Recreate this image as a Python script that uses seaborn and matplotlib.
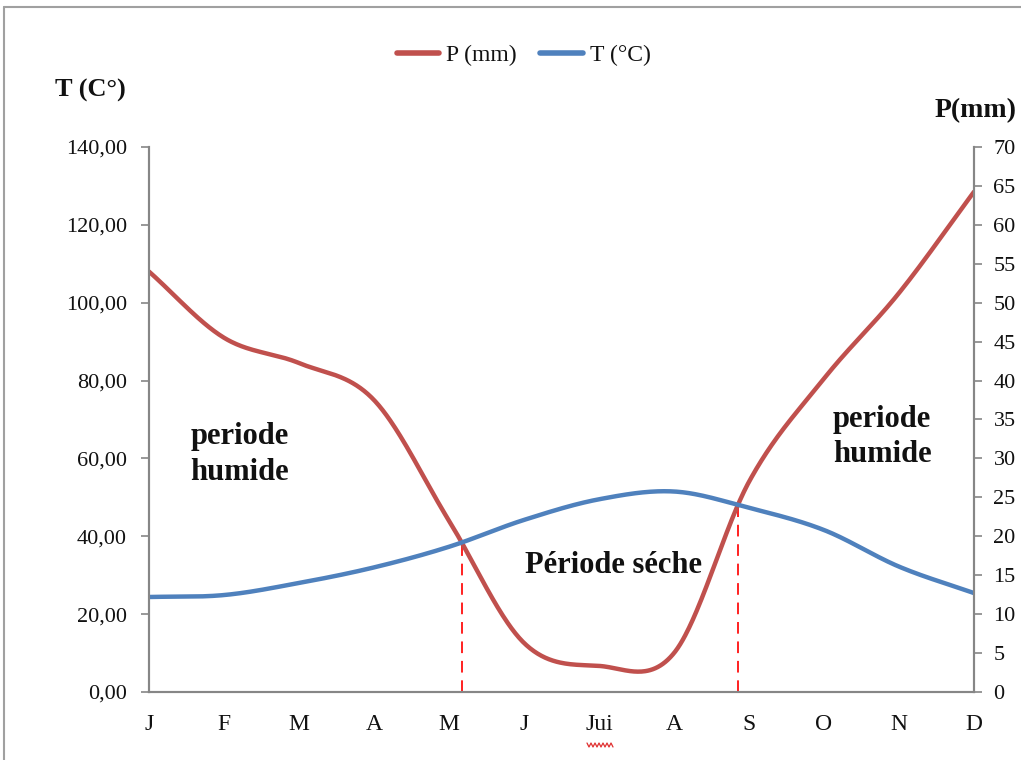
import numpy as np
import pandas as pd
import matplotlib
matplotlib.use("Agg")
import matplotlib.pyplot as plt
import seaborn as sns
from matplotlib.lines import Line2D

# ---------------- data ----------------
months = ["J", "F", "M", "A", "M", "J", "Jui", "A", "S", "O", "N", "D"]
precip_mm = [108.0, 91.0, 84.5, 75.0, 44.0, 12.6, 6.7, 10.0, 54.0, 80.5, 102.5, 128.5]
temp_c = [12.2, 12.45, 14.0, 16.0, 18.65, 22.1, 24.75, 25.75, 23.65, 20.8, 16.1, 12.7]
left_ticks = [0, 20, 40, 60, 80, 100, 120, 140]
left_labels = ["0,00", "20,00", "40,00", "60,00", "80,00", "100,00", "120,00", "140,00"]
right_ticks = list(range(0, 75, 5))

RED = "#C0504D"
BLUE = "#4F81BD"
GRAY = "#868686"
INK = "#111111"

sns.set_style("white")
plt.rcParams["font.family"] = ["Liberation Serif", "DejaVu Serif"]
plt.rcParams["text.color"] = INK
plt.rcParams["xtick.labelcolor"] = INK
plt.rcParams["ytick.labelcolor"] = INK


def smooth(vals, n=60):
    """Excel-like smoothed line (Catmull-Rom / cardinal spline) through the values."""
    v = np.asarray(vals, float)
    m = np.empty_like(v)
    m[1:-1] = (v[2:] - v[:-2]) / 2.0
    m[0] = (v[1] - v[0])
    m[-1] = (v[-1] - v[-2])
    xs, ys = [], []
    last = len(v) - 2
    for i in range(len(v) - 1):
        t = np.linspace(0, 1, n, endpoint=(i == last))
        h00 = 2 * t**3 - 3 * t**2 + 1
        h10 = t**3 - 2 * t**2 + t
        h01 = -2 * t**3 + 3 * t**2
        h11 = t**3 - t**2
        ys.append(h00 * v[i] + h10 * m[i] + h01 * v[i + 1] + h11 * m[i + 1])
        xs.append(i + t)
    return np.concatenate(xs), np.concatenate(ys)


xp, yp = smooth(precip_mm)
xt, yt = smooth(temp_c)
df = pd.DataFrame({"x": xp, "P": yp, "T": yt})

fig = plt.figure(figsize=(10.21, 7.60), dpi=100)
ax = fig.add_axes([0.1459, 0.0895, 0.954 - 0.1459, 0.8066 - 0.0895])
ax2 = ax.twinx()

sns.lineplot(data=df, x="x", y="P", ax=ax, color=RED, lw=3.2, estimator=None, sort=False)
sns.lineplot(data=df, x="x", y="T", ax=ax2, color=BLUE, lw=3.2, estimator=None, sort=False)

# crossings (P = 2T) -> dashed red verticals
diff = df["P"].values - 2 * df["T"].values
idx = np.where(np.sign(diff[:-1]) != np.sign(diff[1:]))[0]
for i in idx:
    f = diff[i] / (diff[i] - diff[i + 1])
    xc = df["x"].values[i] + f * (df["x"].values[i + 1] - df["x"].values[i])
    yc = df["P"].values[i] + f * (df["P"].values[i + 1] - df["P"].values[i])
    ax.plot([xc, xc], [0, yc], color="#FF2020", lw=1.4, ls=(0, (6, 4)), zorder=1)

ax.set_xlim(0, len(months) - 1)
ax.set_ylim(0, 140)
ax2.set_ylim(0, 70)
ax.set_xlabel("")
ax.set_ylabel("")
ax2.set_ylabel("")

ax.set_xticks(range(len(months)))
ax.set_xticklabels(months, fontsize=17)
ax.set_yticks(left_ticks)
ax.set_yticklabels(left_labels, fontsize=16)
ax2.set_yticks(right_ticks)
ax2.set_yticklabels([str(t) for t in right_ticks], fontsize=16)

ax.tick_params(axis="x", length=0, pad=16)
ax.tick_params(axis="y", length=6, width=1.2, color=GRAY, pad=10, left=True)
ax2.tick_params(axis="y", length=6, width=1.2, color=GRAY, pad=8, right=True)

for a in (ax, ax2):
    a.spines["top"].set_visible(False)
    for s in ("left", "right", "bottom"):
        a.spines[s].set_color(GRAY)
        a.spines[s].set_linewidth(1.5)
    a.grid(False)

# annotations
ax.text(0.55, 61, "periode\nhumide", fontsize=22, fontweight="bold", ha="left", va="center",
        linespacing=1.3)
ax.text(6.19, 32.4, "Période séche", fontsize=22, fontweight="bold", ha="center", va="center")
ax.text(9.12, 65.5, "periode\nhumide", fontsize=22, fontweight="bold", ha="left", va="center",
        linespacing=1.3)

# axis titles
fig.text(55 / 1021, 1 - 90 / 760, "T (C°)", fontsize=19, fontweight="bold", ha="left", va="center")
fig.text(935 / 1021, 1 - 111 / 760, "P(mm)", fontsize=20, fontweight="bold", ha="left", va="center")

# legend
handles = [Line2D([0], [0], color=RED, lw=4), Line2D([0], [0], color=BLUE, lw=4)]
fig.legend(handles, ["P (mm)", "T (°C)"], loc="center", bbox_to_anchor=(0.513, 1 - 55 / 760),
           ncol=2, frameon=False, fontsize=17, handlelength=1.8, handletextpad=0.3,
           columnspacing=1.0)

# spell-check squiggle under "Jui" (as in the reference screenshot)
sq_x = np.linspace(587, 613, 14) / 1021
sq_y = 1 - np.where(np.arange(14) % 2 == 0, 743, 747) / 760
fig.add_artist(Line2D(sq_x, sq_y, color="#E03030", lw=0.9))

# outer frame (top and left visible in the reference)
fig.add_artist(Line2D([4 / 1021, 1.0], [1 - 7 / 760, 1 - 7 / 760], color="#A0A0A0", lw=1.5))
fig.add_artist(Line2D([4 / 1021, 4 / 1021], [0, 1 - 7 / 760], color="#A0A0A0", lw=1.5))

fig.savefig("out.png", dpi=100)
